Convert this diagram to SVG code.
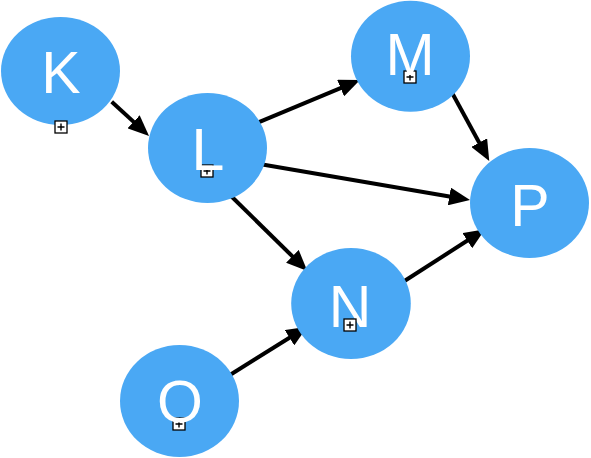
<svg xmlns="http://www.w3.org/2000/svg" width="591" height="458" viewBox="0 0 591 458">
  <style>
    .node ellipse { fill: #4aa8f4; }
    .node text { fill: #ffffff; font-family: "Liberation Sans", Arial, sans-serif; font-size: 59px; text-anchor: middle; }
    .box rect { fill: #ffffff; stroke: #000000; stroke-width: 1.3; }
    .box path { stroke: #000000; stroke-width: 1.4; fill: none; }
    .edges line { stroke: #000000; stroke-width: 4; marker-end: url(#arrow); }
  </style>
  <defs>
    <marker id="arrow" markerUnits="userSpaceOnUse" viewBox="0 0 21 18" markerWidth="21" markerHeight="18" refX="9" refY="9" orient="auto">
      <path d="M0,0 L21,9 L0,18 z" fill="#000000"/>
    </marker>
  </defs>
  <rect width="591" height="458" fill="#ffffff"/>
  <g class="edges" id="connectors">
    <line x1="111.7" y1="101.7" x2="140.2" y2="127.9"/>
    <line x1="256" y1="123.3" x2="348.9" y2="84.6"/>
    <line x1="261" y1="164.3" x2="458.2" y2="198"/>
    <line x1="230" y1="195" x2="298.8" y2="262.6"/>
    <line x1="452.3" y1="93.3" x2="483.5" y2="150.5"/>
    <line x1="403.3" y1="281.7" x2="474.9" y2="235.8"/>
    <line x1="228.3" y1="376" x2="297.1" y2="333"/>
  </g>
  <g class="node" id="node-K">
    <ellipse cx="60.5" cy="71" rx="59.5" ry="54"/>
    <text x="61" y="93">K</text>
    <g class="box"><rect x="55" y="121" width="12" height="12"/><path d="M57.5,127 H64.5 M61,123.5 V130.5"/></g>
  </g>
  <g class="node" id="node-L">
    <ellipse cx="207.5" cy="148" rx="59.5" ry="55"/>
    <g class="box"><rect x="201" y="165" width="12" height="12"/><path d="M203.5,171 H210.5 M207,167.5 V174.5"/></g>
    <text x="208" y="170">L</text>
  </g>
  <g class="node" id="node-M">
    <ellipse cx="410.5" cy="56.3" rx="59.5" ry="55.5"/>
    <g class="box"><rect x="404" y="71" width="12" height="12"/><path d="M406.5,77 H413.5 M410,73.5 V80.5"/></g>
    <text x="410" y="75">M</text>
  </g>
  <g class="node" id="node-N">
    <ellipse cx="351" cy="303.5" rx="59.8" ry="55.5"/>
    <text x="350" y="326.5">N</text>
    <g class="box"><rect x="344" y="319" width="12" height="12"/><path d="M346.5,325 H353.5 M350,321.5 V328.5"/></g>
  </g>
  <g class="node" id="node-O">
    <ellipse cx="179.5" cy="401" rx="59.5" ry="56"/>
    <g class="box"><rect x="173" y="418" width="12" height="12"/><path d="M175.5,424 H182.5 M179,420.5 V427.5"/></g>
    <text x="180" y="422">O</text>
  </g>
  <g class="node" id="node-P">
    <ellipse cx="529.5" cy="203" rx="59.5" ry="55"/>
    <text x="530" y="226">P</text>
  </g>
</svg>
